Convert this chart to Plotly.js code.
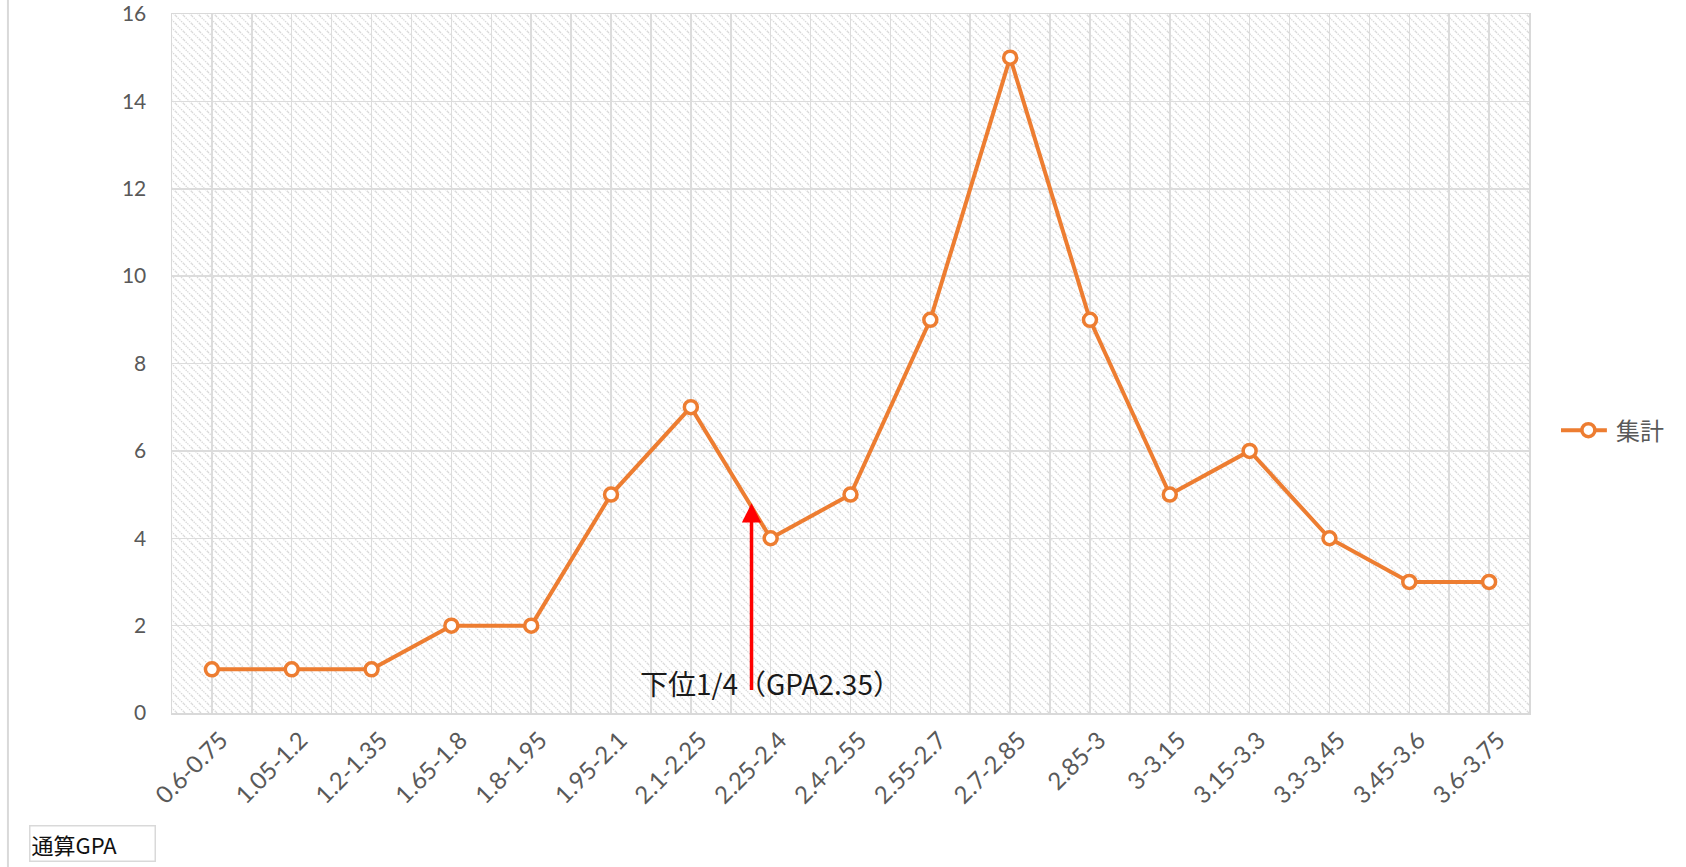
<!DOCTYPE html>
<html>
<head>
<meta charset="utf-8">
<script src="https://cdn.plot.ly/plotly-3.0.1.min.js"></script>
<style>
html,body{margin:0;padding:0;background:#fff;}
#chart{width:1686px;height:867px;}
</style>
</head>
<body>
<div id="chart"></div>
<script>
// ---- data ----
const categories = ["0.6-0.75","1.05-1.2","1.2-1.35","1.65-1.8","1.8-1.95","1.95-2.1","2.1-2.25","2.25-2.4","2.4-2.55","2.55-2.7","2.7-2.85","2.85-3","3-3.15","3.15-3.3","3.3-3.45","3.45-3.6","3.6-3.75"];
const counts = [1,1,1,2,2,5,7,4,5,9,15,9,5,6,4,3,3];
const seriesName = "集計";
const yTicks = [0,2,4,6,8,10,12,14,16];
const xAxisTitle = "通算GPA";
const noteText = "下位1/4（GPA2.35）";
// arrow marker position (category index units, y value)
const arrowX = 6.76;
const arrowTipY = 4.8;
const arrowTailY = 0.49;
const noteX = 7.0;
const noteY = 0.68;

const xIdx = categories.map((_, i) => i);
const orange = "#ED7D31";
const gridCol = "#dcdcdc";
const baseFamily = "Lato, 'Noto Sans CJK JP', sans-serif";

const trace = {
  x: xIdx,
  y: counts,
  type: "scatter",
  mode: "lines+markers",
  name: seriesName,
  line: {color: orange, width: 4},
  marker: {symbol: "circle", size: 13, color: "#ffffff", line: {color: orange, width: 3.5}},
  showlegend: true
};

const layout = {
  width: 1686, height: 867,
  margin: {l: 172, r: 157, t: 14, b: 154},
  paper_bgcolor: "#ffffff",
  plot_bgcolor: "rgba(0,0,0,0)",
  showlegend: true,
  xaxis: {
    type: "linear",
    range: [-0.5, categories.length - 0.5],
    tickmode: "array",
    tickvals: xIdx,
    ticktext: categories,
    tickangle: -45,
    tickfont: {family: baseFamily, size: 24, color: "#595959"},
    ticklabelshift: 9,
    ticklabelstandoff: 2,
    showgrid: true,
    gridcolor: gridCol,
    gridwidth: 1.5,
    minor: {tickmode: "linear", tick0: -0.5, dtick: 1, showgrid: true, gridcolor: gridCol, gridwidth: 1.5, ticks: ""},
    zeroline: false,
    showline: true,
    linecolor: "#d9d9d9",
    linewidth: 1.5,
    mirror: true,
    ticks: "",
    fixedrange: true
  },
  yaxis: {
    range: [0, 16],
    tickmode: "array",
    tickvals: yTicks,
    tickfont: {family: baseFamily, size: 21, color: "#595959"},
    ticklabeloverflow: "allow",
    showgrid: true,
    gridcolor: gridCol,
    gridwidth: 1.5,
    zeroline: false,
    showline: true,
    linecolor: "#d9d9d9",
    linewidth: 1.5,
    mirror: true,
    ticks: "",
    ticklabelstandoff: 20,
    fixedrange: true
  },
  legend: {
    x: 1.0235, xanchor: "left",
    y: 0.404, yanchor: "middle",
    font: {family: baseFamily, size: 24, color: "#595959"},
    bgcolor: "rgba(0,0,0,0)",
    itemwidth: 45
  },
  shapes: [
    {type: "line", xref: "paper", yref: "paper", x0: -0.1209, x1: -0.1209, y0: -0.25, y1: 1.05,
     line: {color: "#d9d9d9", width: 2}}
  ],
  annotations: [
    {x: arrowX, y: arrowTipY, ax: arrowX, ay: arrowTailY, xref: "x", yref: "y", axref: "x", ayref: "y",
     text: "", showarrow: true, arrowcolor: "#ff0000", arrowwidth: 3.5, arrowhead: 2, arrowsize: 1.1, standoff: 0, startstandoff: 0},
    {x: noteX, y: noteY, xref: "x", yref: "y", text: noteText, showarrow: false,
     font: {family: "'Noto Sans CJK JP', sans-serif", size: 28, color: "#1a1a1a"}, xanchor: "center", yanchor: "middle"},
    {x: -0.1054, y: -0.1598, xref: "paper", yref: "paper", xanchor: "left", yanchor: "top",
     text: xAxisTitle, showarrow: false, align: "left", width: 122, height: 32,
     bordercolor: "#d9d9d9", borderwidth: 1.5, borderpad: 1,
     font: {family: "'Noto Sans CJK JP', sans-serif", size: 22, color: "#111111"}}
  ]
};

Plotly.newPlot("chart", [trace], layout, {displayModeBar: false, staticPlot: true}).then(function (gd) {
  const svg = gd.querySelector("svg.main-svg");
  const ns = "http://www.w3.org/2000/svg";
  let defs = svg.querySelector("defs");
  if (!defs) { defs = document.createElementNS(ns, "defs"); svg.insertBefore(defs, svg.firstChild); }
  const pat = document.createElementNS(ns, "pattern");
  pat.setAttribute("id", "hatchbg");
  pat.setAttribute("patternUnits", "userSpaceOnUse");
  pat.setAttribute("width", "8");
  pat.setAttribute("height", "8");
  const r = document.createElementNS(ns, "rect");
  r.setAttribute("width", "8"); r.setAttribute("height", "8"); r.setAttribute("fill", "#ffffff");
  pat.appendChild(r);
  [["0","0","8","8"],["-4","4","4","12"],["4","-4","12","4"]].forEach(function (c) {
    const l = document.createElementNS(ns, "line");
    l.setAttribute("x1", c[0]); l.setAttribute("y1", c[1]); l.setAttribute("x2", c[2]); l.setAttribute("y2", c[3]);
    l.setAttribute("stroke", "#d8d8d8"); l.setAttribute("stroke-width", "1.3");
    l.setAttribute("stroke-dasharray", "1.4 1");
    pat.appendChild(l);
  });
  defs.appendChild(pat);
  const sz = gd._fullLayout._size;
  const bgRect = document.createElementNS(ns, "rect");
  bgRect.setAttribute("x", sz.l); bgRect.setAttribute("y", sz.t);
  bgRect.setAttribute("width", sz.w); bgRect.setAttribute("height", sz.h);
  bgRect.setAttribute("fill", "url(#hatchbg)");
  const cart = svg.querySelector("g.cartesianlayer");
  if (cart) { svg.insertBefore(bgRect, cart); } else { svg.appendChild(bgRect); }
  gd.querySelectorAll(".legend .legendlines path").forEach(function (p) {
    p.setAttribute("d", "M-5,0h51");
  });
});
</script>
</body>
</html>
